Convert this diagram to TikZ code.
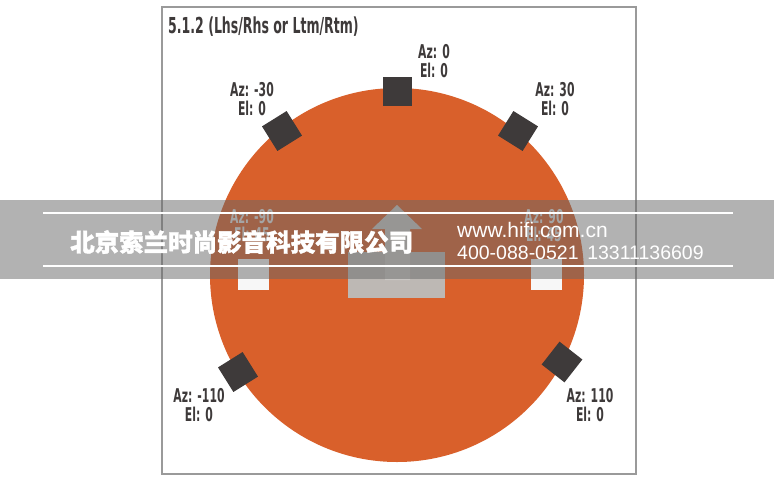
\documentclass[tikz,border=0pt]{standalone}
\usepackage{fontspec}
\setmainfont{DejaVu Sans}
\newfontfamily\cjk{Noto Sans CJK SC}[BoldFeatures={FakeBold=1.5}]
\newfontfamily\urlfont{Liberation Sans}
\usetikzlibrary{positioning}
\definecolor{orangec}{HTML}{D9602B}
\definecolor{spk}{HTML}{3E3A3A}
\definecolor{framec}{HTML}{9A9A9A}
\definecolor{lgrey}{HTML}{BDB8B4}
\definecolor{agrey}{HTML}{C9C6C3}
\definecolor{bandc}{HTML}{676767}
\newcommand{\cnd}[1]{\scalebox{0.57}[1]{#1}}
\tikzset{
  speaker/.style={draw=none, fill=spk, minimum size=29pt, inner sep=0pt},
  upspk/.style={draw=none, fill=white!94!gray, minimum width=31pt, minimum height=31pt, inner sep=0pt},
  lab/.style={font=\bfseries\fontsize{19}{19}\selectfont, text=spk, inner sep=0pt, text height=13.5pt, text depth=0pt},
  uplab/.style={font=\bfseries\fontsize{19}{19}\selectfont, text=white!80!gray, inner sep=0pt, text height=13.5pt, text depth=0pt},
  wline/.style={draw=white, line width=1.3pt},
}
\begin{document}
\begin{tikzpicture}[x=1pt,y=-1pt]
\useasboundingbox (0,0) rectangle (774,480);
\fill[white] (0,0) rectangle (774,480);
% frame
\draw[framec, line width=1.2pt] (162,7) rectangle (636,474);
% title
\node[anchor=west, font=\bfseries\fontsize{22}{22}\selectfont, text=spk, inner sep=0pt] (title) at (168,27) {\scalebox{0.57}[1]{5.1.2 (Lhs/Rhs or Ltm/Rtm)}};
% circle
\node[circle, fill=orangec, minimum size=374pt, inner sep=0pt] (room) at (397,275) {};
% speakers
\node[speaker] (s0) at (397,91) {};
\node[speaker, rotate=32] (sl30) at (282,131) {};
\node[speaker, rotate=-32] (sr30) at (518,131) {};
\node[speaker, rotate=32] (sl110) at (238,372) {};
\node[speaker, rotate=52] (sr110) at (562,362) {};
% elevated speakers
\node[upspk] (ul) at (253,274) {};
\node[upspk] (ur) at (546,274) {};
% listener
\node[fill=lgrey, minimum width=97pt, minimum height=46pt, inner sep=0pt] (listener) at (396.5,275) {};
\fill[agrey] (397,205) -- (422,229) -- (410,229) -- (410,280) -- (385,280) -- (385,229) -- (372,229) -- cycle;
% labels
\node[lab] (l0a) at (434,52) {\cnd{Az: 0}};
\node[lab] (l0e) at (434,71) {\cnd{El: 0}};
\node[lab] (ll30a) at (252,90) {\cnd{Az: -30}};
\node[lab] (ll30e) at (252,109) {\cnd{El: 0}};
\node[lab] (lr30a) at (555,90) {\cnd{Az: 30}};
\node[lab] (lr30e) at (555,109) {\cnd{El: 0}};
\node[lab] (ll110a) at (199,396) {\cnd{Az: -110}};
\node[lab] (ll110e) at (199,415) {\cnd{El: 0}};
\node[lab] (lr110a) at (590,396) {\cnd{Az: 110}};
\node[lab] (lr110e) at (590,415) {\cnd{El: 0}};
\node[uplab] (ll90a) at (252,217) {\cnd{Az: -90}};
\node[uplab] (ll90e) at (252,235) {\cnd{El: 45}};
\node[uplab] (lr90a) at (544,217) {\cnd{Az: 90}};
\node[uplab] (lr90e) at (544,235) {\cnd{El: 45}};
% watermark band
\fill[bandc, fill opacity=0.5] (0,200) rectangle (774,279);
\draw[wline] (43,213) -- (733,213);
\draw[wline] (43,266) -- (733,266);
\node[anchor=west, inner sep=0pt, text=white, font=\cjk\bfseries\fontsize{24.5}{24.5}\selectfont] (cn) at (70,242) {北京索兰时尚影音科技有限公司};
\node[anchor=west, inner sep=0pt, text=white, font=\urlfont\fontsize{21}{21}\selectfont] (url) at (457,230) {www.hifi.com.cn};
\node[anchor=west, inner sep=0pt, text=white, font=\urlfont\fontsize{19.5}{19.5}\selectfont] (tel) at (457,253) {400-088-0521\ \,13311136609};
\end{tikzpicture}
\end{document}
